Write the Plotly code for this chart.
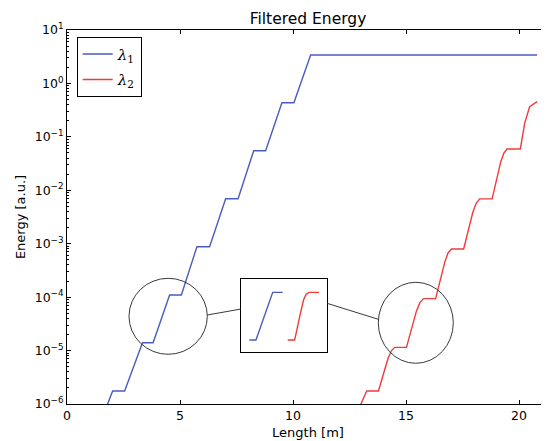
import plotly.graph_objects as go

# ---- data ----
length_blue = [1.55, 2.02, 2.55, 3.34, 3.81, 4.54, 5.06, 5.75, 6.31, 7.02, 7.57,
               8.26, 8.79, 9.51, 10.04, 10.78, 20.80]
energy_blue = [5.4e-7, 1.75e-6, 1.75e-6, 1.40e-5, 1.40e-5, 1.10e-4, 1.10e-4,
               8.8e-4, 8.8e-4, 6.96e-3, 6.96e-3, 5.5e-2, 5.5e-2, 0.435, 0.435,
               3.40, 3.40]

length_red = [12.90, 13.26, 13.78, 14.20, 14.35, 14.50, 15.02, 15.46, 15.62, 15.78,
              16.31, 16.72, 16.86, 17.01, 17.55, 17.96, 18.11, 18.26, 18.81, 19.19,
              19.33, 19.47, 20.06, 20.25, 20.47, 20.80]
energy_red = [7.9e-7, 1.75e-6, 1.75e-6, 7.05e-6, 9.9e-6, 1.15e-5, 1.15e-5, 5.46e-5,
              7.98e-5, 9.4e-5, 9.4e-5, 4.57e-4, 6.71e-4, 7.96e-4, 7.96e-4, 3.93e-3,
              5.78e-3, 6.9e-3, 6.9e-3, 3.39e-2, 4.99e-2, 5.93e-2, 5.93e-2, 0.179,
              0.367, 0.455]

inset_blue_x = [0.97, 1.74, 3.69, 4.85]
inset_blue_y = [0, 0, 1, 1]
inset_red_x = [5.43, 6.24, 6.86, 7.27, 7.56, 7.91, 9.07]
inset_red_y = [0, 0, 0.524, 0.839, 0.954, 1, 1]

x_ticks = [0, 5, 10, 15, 20]
y_exponents = [-6, -5, -4, -3, -2, -1, 0, 1]
y_ticks = [10.0 ** e for e in y_exponents]
y_ticktext = ["10<sup>" + str(e).replace("-", "\u2212") + "</sup>" for e in y_exponents]

series_names = ["<i>\u03bb</i><sub>1</sub>", "<i>\u03bb</i><sub>2</sub>"]
BLUE = "#4a5cc0"
RED = "#f23a3a"

FONT = "DejaVu Sans"

fig = go.Figure()
fig.add_trace(go.Scatter(x=length_blue, y=energy_blue, mode="lines", name=series_names[0],
                         line=dict(color=BLUE, width=1.4), legendgroup="a"))
fig.add_trace(go.Scatter(x=length_red, y=energy_red, mode="lines", name=series_names[1],
                         line=dict(color=RED, width=1.4), legendgroup="b"))
# invisible trace to host right-side tick axis
fig.add_trace(go.Scatter(x=[None], y=[None], yaxis="y3", showlegend=False, hoverinfo="skip"))
# inset traces
fig.add_trace(go.Scatter(x=inset_blue_x, y=inset_blue_y, mode="lines", xaxis="x2", yaxis="y2",
                         line=dict(color=BLUE, width=1.4), showlegend=False))
fig.add_trace(go.Scatter(x=inset_red_x, y=inset_red_y, mode="lines", xaxis="x2", yaxis="y2",
                         line=dict(color=RED, width=1.4), showlegend=False))

minor_log = dict(ticks="inside", ticklen=2, tickcolor="black", dtick="D1", showgrid=False)

# page body has an 8px default margin; figure is sized/offset to compensate
OFF = 8
FIG_W, FIG_H = 549 - OFF, 441 - OFF
L, T, B = 67 - OFF, 30 - OFF, 37
W_PLOT = FIG_W - L
H_PLOT = FIG_H - T - B
PLOT_LEFT_PAGE, PLOT_BOTTOM_PAGE = 67, 404

def px_x(p):
    return (p - PLOT_LEFT_PAGE) / W_PLOT

def px_y(p):
    return (PLOT_BOTTOM_PAGE - p) / H_PLOT

fig.update_layout(
    width=FIG_W, height=FIG_H,
    margin=dict(l=L, r=0, t=T, b=B, pad=0),
    paper_bgcolor="white", plot_bgcolor="white",
    font=dict(family=FONT, size=12, color="black"),
    title=dict(text="Filtered Energy", x=0.5, xref="paper", xanchor="center",
               y=1 - (19 - OFF) / FIG_H, yref="container", yanchor="middle",
               font=dict(family=FONT, size=15.5, color="black")),
    xaxis=dict(range=[0, W_PLOT / 22.6], tickvals=x_ticks, ticks="inside", ticklen=4,
               tickcolor="black", showline=True, linecolor="black", linewidth=1,
               mirror="ticks", showgrid=False, zeroline=False, automargin=False,
               tickfont=dict(family=FONT, size=12.5),
               title=dict(text="Length [m]", font=dict(family=FONT, size=13), standoff=5)),
    yaxis=dict(type="log", range=[-6, 1], tickvals=y_ticks, ticktext=y_ticktext,
               ticks="inside", ticklen=4, tickcolor="black", showline=True,
               linecolor="black", linewidth=1, showgrid=False, zeroline=False,
               automargin=False,
               minor=minor_log, tickfont=dict(family=FONT, size=12.5),
               title=dict(text="Energy [a.u.]", font=dict(family=FONT, size=13), standoff=6)),
    yaxis3=dict(type="log", range=[-6, 1], overlaying="y", side="right", anchor="x",
                tickvals=y_ticks, ticks="inside", ticklen=4, tickcolor="black",
                showticklabels=False, showline=False, showgrid=False, zeroline=False,
                automargin=False, minor=minor_log),
    xaxis2=dict(domain=[px_x(241), px_x(327)], anchor="y2", range=[0, 10],
                showline=True, linecolor="black", linewidth=1, mirror=True,
                showticklabels=False, ticks="", showgrid=False, zeroline=False),
    yaxis2=dict(domain=[px_y(352), px_y(279)], anchor="x2", range=[-0.25, 1.28],
                showline=True, linecolor="black", linewidth=1, mirror=True,
                showticklabels=False, ticks="", showgrid=False, zeroline=False),
    legend=dict(x=px_x(76.7), y=px_y(36.7), xanchor="left", yanchor="top",
                bgcolor="white", bordercolor="black", borderwidth=1,
                font=dict(family="DejaVu Serif", size=15), tracegroupgap=3,
                itemwidth=30),
    showlegend=True,
)

circle_line = dict(color="#222222", width=0.9)
fig.add_shape(type="circle", xref="paper", yref="paper",
              x0=px_x(129), x1=px_x(207.3), y0=px_y(354.3), y1=px_y(278.3), line=circle_line)
fig.add_shape(type="circle", xref="paper", yref="paper",
              x0=px_x(378.3), x1=px_x(453.3), y0=px_y(363.3), y1=px_y(282.3), line=circle_line)
fig.add_shape(type="line", xref="paper", yref="paper",
              x0=px_x(207.3), y0=px_y(315), x1=px_x(241), y1=px_y(309), line=circle_line)
fig.add_shape(type="line", xref="paper", yref="paper",
              x0=px_x(327), y0=px_y(303.3), x1=px_x(378.3), y1=px_y(319.3), line=circle_line)

fig.write_html("out.html")
